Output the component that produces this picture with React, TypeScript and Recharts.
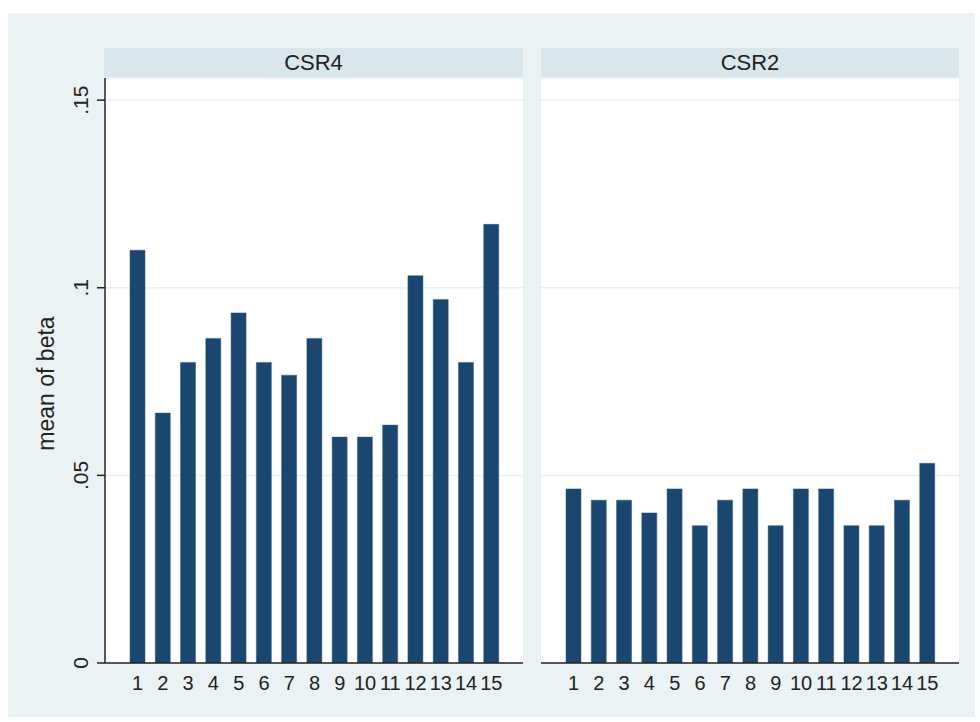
import React from 'react';
import { BarChart, Bar, XAxis, YAxis, CartesianGrid, Label } from 'recharts';

const groups = ['1', '2', '3', '4', '5', '6', '7', '8', '9', '10', '11', '12', '13', '14', '15'];
const csr4Values = [0.11, 0.0666, 0.0801, 0.0865, 0.0933, 0.0801, 0.0767, 0.0865, 0.0602, 0.0602, 0.0634, 0.1032, 0.0969, 0.0801, 0.1169];
const csr2Values = [0.0464, 0.0434, 0.0434, 0.04, 0.0464, 0.0366, 0.0434, 0.0464, 0.0366, 0.0464, 0.0464, 0.0366, 0.0366, 0.0434, 0.0532];
const yTicks = [0, 0.05, 0.1, 0.15];
const yMax = 0.1559;

const BAR = '#1a476f';
const STRIP = '#d9e6eb';
const BG = '#eaf2f3';
const FONT = '"Liberation Sans", Arial, sans-serif';

const csr4Data = groups.map((g, i) => ({ group: g, beta: csr4Values[i] }));
const csr2Data = groups.map((g, i) => ({ group: g, beta: csr2Values[i] }));

const fmt = (v: number) => (v === 0 ? '0' : String(v).replace(/^0/, ''));

const YTick = ({ x, y, payload }: any) => (
  <text
    transform={`translate(${x - 7},${y}) rotate(-90)`}
    textAnchor="middle"
    fontSize={21}
    fontFamily={FONT}
    fill="#222"
  >
    {fmt(payload.value)}
  </text>
);

const Strip = ({ left, width, title }: { left: number; width: number; title: string }) => (
  <div
    style={{
      position: 'absolute',
      left,
      top: 48,
      width,
      height: 30,
      background: STRIP,
      fontFamily: FONT,
      fontSize: 22,
      lineHeight: '30px',
      textAlign: 'center',
      color: '#222',
    }}
  >
    {title}
  </div>
);

const Panel = ({ data, showY, width, margin }: any) => (
  <BarChart width={width} height={722} data={data} margin={margin} barSize={15}>
    <CartesianGrid vertical={false} stroke={BG} strokeWidth={1.5} />
    <XAxis
      dataKey="group"
      padding={{ left: 20, right: 19 }}
      axisLine={{ stroke: '#222', strokeWidth: 1.5 }}
      tickLine={false}
      tickSize={0}
      tickMargin={13}
      interval={0}
      height={40}
      tick={{ fontSize: 20, fontFamily: FONT, fill: '#222' }}
    />
    <YAxis
      hide={!showY}
      width={50}
      domain={[0, yMax]}
      ticks={yTicks}
      allowDataOverflow
      axisLine={{ stroke: '#222', strokeWidth: 1.5 }}
      tickLine={{ stroke: '#222', strokeWidth: 1.5 }}
      tickSize={8}
      tick={<YTick />}
    >
      {showY && (
        <Label
          content={(props: any) => {
            const vb = props.viewBox;
            return (
              <text
                transform={`translate(${vb.x - 1},${vb.y + vb.height / 2 + 13}) rotate(-90)`}
                textAnchor="middle"
                fontSize={23}
                fontFamily={FONT}
                fill="#222"
              >
                mean of beta
              </text>
            );
          }}
        />
      )}
    </YAxis>
    <Bar dataKey="beta" fill={BAR} stroke="#2f5a80" strokeWidth={0.5} isAnimationActive={false} />
  </BarChart>
);

export default function App() {
  return (
    <div style={{ position: 'absolute', left: 0, top: 0, width: 980, height: 722, background: '#fff', overflow: 'hidden' }}>
      <div style={{ position: 'absolute', left: 8, top: 13, width: 967, height: 704, background: BG }} />
      <Strip left={104} width={419} title="CSR4" />
      <Strip left={541} width={418} title="CSR2" />
      <div style={{ position: 'absolute', left: 104, top: 78, width: 419, height: 585, background: '#fff' }} />
      <div style={{ position: 'absolute', left: 541, top: 78, width: 418, height: 585, background: '#fff' }} />
      <div style={{ position: 'absolute', left: 0, top: 0 }}>
        <Panel data={csr4Data} showY width={530} margin={{ top: 78, right: 7, left: 55, bottom: 19 }} />
      </div>
      <div style={{ position: 'absolute', left: 530, top: 0 }}>
        <Panel data={csr2Data} showY={false} width={450} margin={{ top: 78, right: 21, left: 11, bottom: 19 }} />
      </div>
    </div>
  );
}
